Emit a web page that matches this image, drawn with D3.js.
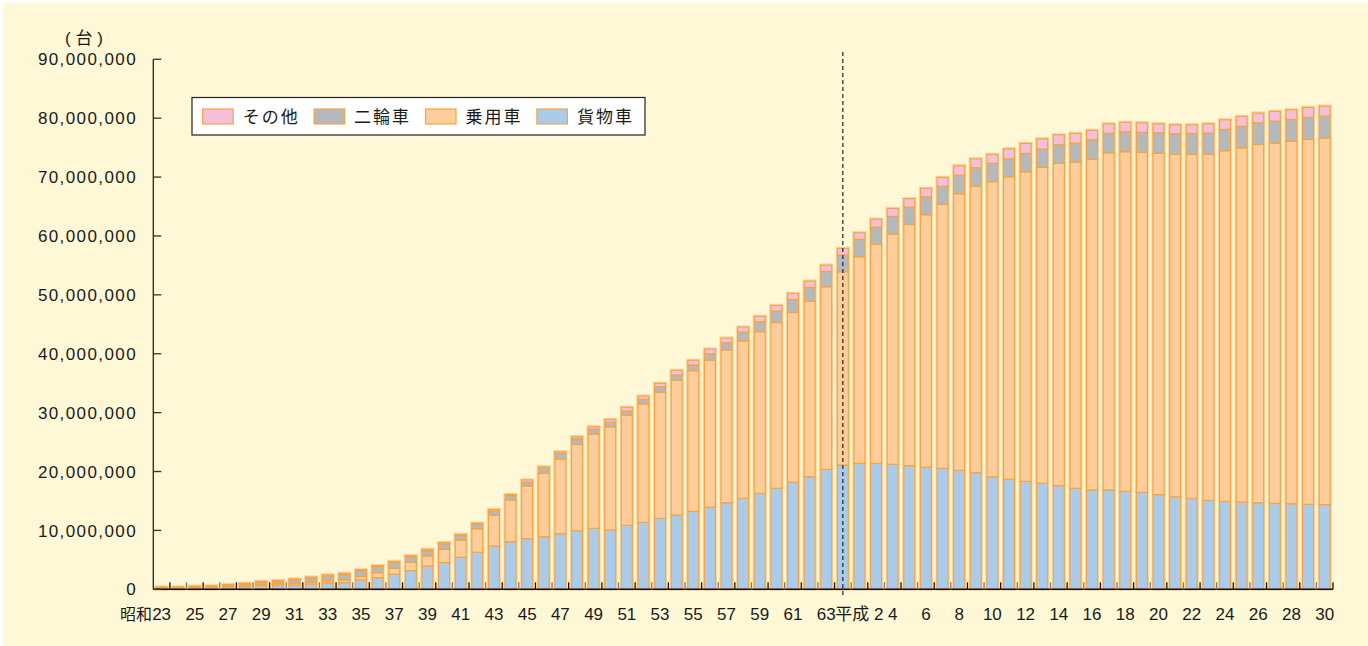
<!DOCTYPE html>
<html>
<head>
<meta charset="utf-8">
<script src="https://cdn.jsdelivr.net/npm/d3@7"></script>
<style>
  body { margin: 0; background: #fff; }
  svg { display: block; font-family: "Liberation Sans", Arial, "Noto Sans CJK JP", sans-serif; }
</style>
</head>
<body>
<div id="chart"></div>
<script>
// 年次（昭和23年～平成30年）
const years = [
  "昭和23","昭和24","昭和25","昭和26","昭和27","昭和28","昭和29","昭和30","昭和31","昭和32",
  "昭和33","昭和34","昭和35","昭和36","昭和37","昭和38","昭和39","昭和40","昭和41","昭和42",
  "昭和43","昭和44","昭和45","昭和46","昭和47","昭和48","昭和49","昭和50","昭和51","昭和52",
  "昭和53","昭和54","昭和55","昭和56","昭和57","昭和58","昭和59","昭和60","昭和61","昭和62",
  "昭和63","平成元","平成2","平成3","平成4","平成5","平成6","平成7","平成8","平成9",
  "平成10","平成11","平成12","平成13","平成14","平成15","平成16","平成17","平成18","平成19",
  "平成20","平成21","平成22","平成23","平成24","平成25","平成26","平成27","平成28","平成29",
  "平成30"
];

const tickYears = [
  "昭和23","昭和25","昭和27","昭和29","昭和31","昭和33","昭和35","昭和37","昭和39","昭和41",
  "昭和43","昭和45","昭和47","昭和49","昭和51","昭和53","昭和55","昭和57","昭和59","昭和61",
  "昭和63","平成2","平成4","平成6","平成8","平成10","平成12","平成14","平成16","平成18",
  "平成20","平成22","平成24","平成26","平成28","平成30"
];
const tickText = [
  "23","25","27","29","31","33","35","37","39","41",
  "43","45","47","49","51","53","55","57","59","61",
  "63","平成 2","4","6","8","10","12","14","16","18",
  "20","22","24","26","28","30"
];

// 保有台数（百万台）
const freight = [
  0.22,0.22,0.28,0.30,0.40,0.45,0.62,0.68,0.74,0.91,
  1.07,1.13,1.60,1.98,2.55,3.17,3.96,4.53,5.43,6.28,
  7.35,8.08,8.60,8.94,9.44,9.95,10.35,10.07,10.87,11.37,
  12.05,12.60,13.24,13.97,14.70,15.45,16.30,17.15,18.17,19.12,
  20.37,21.10,21.39,21.39,21.22,20.99,20.76,20.54,20.20,19.80,
  19.12,18.68,18.34,18.00,17.59,17.15,16.86,16.86,16.64,16.47,
  16.07,15.70,15.42,15.11,14.94,14.82,14.70,14.60,14.53,14.43,
  14.37
];
const passenger = [
  0.05,0.06,0.08,0.10,0.14,0.18,0.22,0.26,0.28,0.32,
  0.36,0.45,0.57,0.85,1.00,1.41,1.70,2.26,2.94,4.00,
  5.20,7.08,8.94,10.76,12.68,14.67,16.00,17.50,18.67,20.09,
  21.40,22.90,23.87,24.96,25.94,26.71,27.44,28.15,28.83,29.78,
  31.00,32.82,35.08,37.20,39.10,41.00,42.84,44.82,46.96,48.67,
  50.08,51.37,52.56,53.65,54.74,55.40,56.14,57.27,57.66,57.72,
  57.95,58.15,58.43,58.74,59.53,60.16,60.85,61.17,61.58,61.97,
  62.25
];
const motorcycle = [
  0.04,0.04,0.08,0.10,0.17,0.28,0.34,0.34,0.57,0.62,
  0.79,0.90,1.00,1.02,0.96,0.96,0.90,0.90,0.74,0.74,
  0.75,0.73,0.63,0.84,0.97,0.97,0.85,0.80,0.73,0.80,
  0.95,0.88,0.98,1.07,1.23,1.53,1.69,1.95,2.20,2.37,
  2.61,2.84,2.95,2.90,3.00,2.93,3.06,3.06,3.13,3.11,
  3.13,3.05,3.12,3.10,3.15,3.22,3.33,3.29,3.39,3.40,
  3.50,3.50,3.57,3.62,3.63,3.62,3.67,3.73,3.69,3.74,
  3.74
];
const other = [
  0.08,0.08,0.10,0.10,0.11,0.11,0.17,0.23,0.17,0.23,
  0.23,0.23,0.17,0.17,0.23,0.17,0.23,0.23,0.20,0.20,
  0.25,0.20,0.40,0.26,0.27,0.33,0.40,0.46,0.63,0.55,
  0.57,0.80,0.80,0.80,0.80,0.84,0.92,0.95,1.05,1.07,
  1.07,1.14,1.12,1.37,1.36,1.42,1.42,1.53,1.63,1.52,
  1.52,1.70,1.70,1.75,1.70,1.65,1.60,1.63,1.60,1.63,
  1.53,1.53,1.46,1.58,1.63,1.70,1.65,1.65,1.63,1.69,
  1.69
];

const seriesKeys = ["freight", "passenger", "motorcycle", "other"];
const seriesNames = ["貨物車", "乗用車", "二輪車", "その他"];
const seriesColors = ["#abcbeb", "#ffcd9a", "#b3b9bc", "#f4bfd9"];
const eraStart = "平成元";

const W = 1368, H = 646;
const margin = { left: 153.3, right: 1333, top: 59.3, bottom: 589.3 };

const svg = d3.select("#chart").append("svg")
  .attr("width", W).attr("height", H);

svg.append("rect")
  .attr("x", 3).attr("y", 3)
  .attr("width", W - 3).attr("height", H - 3)
  .attr("fill", "#fef8d7");

const table = years.map((y, i) => ({
  year: y,
  freight: freight[i] * 1e6,
  passenger: passenger[i] * 1e6,
  motorcycle: motorcycle[i] * 1e6,
  other: other[i] * 1e6
}));

const x = d3.scaleBand()
  .domain(years)
  .range([margin.left, margin.right])
  .paddingInner(0.34)
  .paddingOuter(0.17);

const y = d3.scaleLinear()
  .domain([0, 90000000])
  .range([margin.bottom, margin.top]);

const stacked = d3.stack().keys(seriesKeys)(table);
const color = d3.scaleOrdinal().domain(seriesKeys).range(seriesColors);

// 外側のうすい縁取り
const totals = table.map((d) => ({ year: d.year, total: d3.sum(seriesKeys, (k) => d[k]) }));
svg.append("g")
  .selectAll("rect")
  .data(totals)
  .join("rect")
  .attr("x", (d) => x(d.year))
  .attr("y", (d) => y(d.total))
  .attr("width", x.bandwidth())
  .attr("height", (d) => y(0) - y(d.total))
  .attr("fill", "none")
  .attr("stroke", "#fcd6a0")
  .attr("stroke-width", 3.4);

svg.append("g")
  .selectAll("g")
  .data(stacked)
  .join("g")
  .attr("fill", (d) => color(d.key))
  .selectAll("rect")
  .data((d) => d)
  .join("rect")
  .attr("x", (d) => x(d.data.year))
  .attr("y", (d) => y(d[1]))
  .attr("width", x.bandwidth())
  .attr("height", (d) => Math.max(0, y(d[0]) - y(d[1])))
  .attr("stroke", "#f6a443")
  .attr("stroke-width", 1.2);

// 軸
const axisG = svg.append("g");
axisG.append("line")
  .attr("x1", margin.left).attr("x2", margin.left)
  .attr("y1", y(90000000)).attr("y2", y(0))
  .attr("stroke", "#222").attr("stroke-width", 1.3);
axisG.append("line")
  .attr("x1", margin.left).attr("x2", margin.right)
  .attr("y1", y(0)).attr("y2", y(0))
  .attr("stroke", "#111").attr("stroke-width", 1.5);

const yTicks = y.ticks(9);
axisG.selectAll(".ytick")
  .data(yTicks)
  .join("line")
  .attr("x1", margin.left).attr("x2", margin.left + 8)
  .attr("y1", (d) => y(d)).attr("y2", (d) => y(d))
  .attr("stroke", "#333").attr("stroke-width", 1.3);

axisG.selectAll(".ylab")
  .data(yTicks)
  .join("text")
  .attr("x", 137)
  .attr("y", (d) => y(d))
  .attr("dy", "0.36em")
  .attr("text-anchor", "end")
  .attr("font-size", 17)
  .attr("letter-spacing", 1.4)
  .attr("fill", "#1a1a1a")
  .text((d) => d3.format(",")(d));

svg.append("text")
  .attr("x", 84).attr("y", 44)
  .attr("text-anchor", "middle")
  .attr("font-size", 17)
  .attr("fill", "#1a1a1a")
  .text("( 台 )");

// x軸の目盛（各年の境界）
const step = x.step();
const bounds = d3.range(1, years.length + 1).map((i) => margin.left + i * step);
axisG.selectAll(".xtick")
  .data(bounds)
  .join("line")
  .attr("x1", (d) => d).attr("x2", (d) => d)
  .attr("y1", y(0)).attr("y2", y(0) - 7)
  .attr("stroke", (d, i) => (i % 2 === 0 ? "#111" : "#777"))
  .attr("stroke-width", 1.3);

const tickLabels = tickYears.map((t, i) => ({ year: t, text: tickText[i] }));
axisG.selectAll(".xlab")
  .data(tickLabels)
  .join("text")
  .attr("x", (d) => x(d.year) + x.bandwidth() / 2)
  .attr("y", 620)
  .attr("text-anchor", "middle")
  .attr("font-size", 17)
  .attr("fill", "#1a1a1a")
  .text((d) => d.text);

axisG.append("text")
  .attr("x", x(tickYears[0]) + x.bandwidth() / 2 - 9.5)
  .attr("y", 620)
  .attr("text-anchor", "end")
  .attr("font-size", 16)
  .attr("fill", "#1a1a1a")
  .text("昭和");

// 元号の区切り
const eraX = x(eraStart) + x.bandwidth() / 2;
svg.append("line")
  .attr("x1", eraX).attr("x2", eraX)
  .attr("y1", 52).attr("y2", 598)
  .attr("stroke", "#222")
  .attr("stroke-width", 1.2)
  .attr("stroke-dasharray", "4,3");

// 凡例
const legend = svg.append("g");
legend.append("rect")
  .attr("x", 192).attr("y", 97.5)
  .attr("width", 453).attr("height", 37.5)
  .attr("fill", "#fff")
  .attr("stroke", "#222").attr("stroke-width", 1.2);

const legendOrder = [3, 2, 1, 0];
const li = legend.selectAll(".li")
  .data(legendOrder)
  .join("g")
  .attr("transform", (d, i) => `translate(${202.7 + i * 111.4},109)`);
li.append("rect")
  .attr("width", 30.5).attr("height", 15)
  .attr("fill", (d) => seriesColors[d])
  .attr("stroke", "#f6a443").attr("stroke-width", 1.2);
li.append("text")
  .attr("x", 40).attr("y", 7.5)
  .attr("dy", "0.36em")
  .attr("font-size", 17)
  .attr("letter-spacing", 2)
  .attr("fill", "#1a1a1a")
  .attr("font-family", "'Noto Sans CJK JP', sans-serif")
  .text((d) => seriesNames[d]);
</script>
</body>
</html>
